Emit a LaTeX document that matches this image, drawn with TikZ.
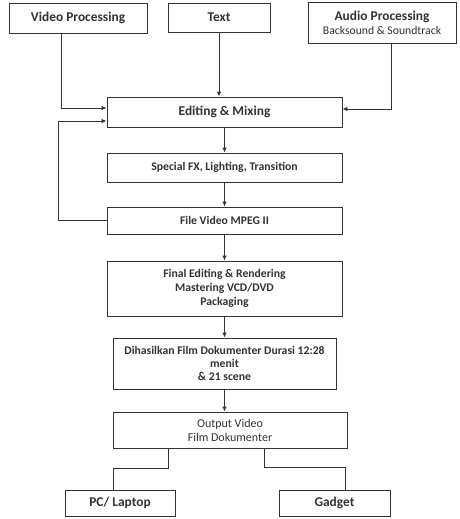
\documentclass[tikz,border=0pt]{standalone}
\usepackage{fontspec}
\setmainfont{Carlito}
\usetikzlibrary{arrows.meta}
\definecolor{ink}{HTML}{333333}
\tikzset{
  box/.style={draw=ink, line width=0.9pt, inner sep=0pt, align=center, text=ink, font=\bfseries},
  big/.style={font=\bfseries\fontsize{13.4}{15}\selectfont},
  small/.style={font=\bfseries\fontsize{11.7}{14}\selectfont},
  arr/.style={draw=ink, line width=0.9pt, -{Latex[length=5pt,width=4.5pt]}},
  ln/.style={draw=ink, line width=0.9pt}
}
\begin{document}
\begin{tikzpicture}[x=1pt,y=-1pt]
\useasboundingbox[fill=white] (0,0) rectangle (460,519);
\node[box, big, minimum width=138pt, minimum height=30pt] (vp) at (78,18) {Video Processing};
\node[box, big, minimum width=102pt, minimum height=29pt] (tx) at (219,17.5) {Text};
\node[box, minimum width=148pt, minimum height=41pt, font=\bfseries\fontsize{13.4}{14}\selectfont] (ap) at (382,22.5) {Audio Processing\\{\mdseries\fontsize{11.7}{12}\selectfont Backsound \& Soundtrack}};
\node[box, big, minimum width=235pt, minimum height=30pt] (em) at (224.5,112) {Editing \& Mixing};
\node[box, small, minimum width=235pt, minimum height=29pt] (sfx) at (224.5,167.5) {Special FX, Lighting, Transition};
\node[box, small, minimum width=235pt, minimum height=27pt] (mpeg) at (224.5,220.5) {File Video MPEG II};
\node[box, small, minimum width=235pt, minimum height=55pt] (fin) at (224.5,288.5) {Final Editing \& Rendering\\Mastering VCD/DVD\\Packaging};
\node[box, font=\bfseries\fontsize{11.7}{13}\selectfont, minimum width=223pt, minimum height=51pt] (dih) at (224.5,363.5) {Dihasilkan Film Dokumenter Durasi 12:28\\menit\\\& 21 scene};
\node[box, minimum width=234pt, minimum height=36pt, font=\fontsize{12}{14}\selectfont] (out) at (230,430) {Output Video\\Film Dokumenter};
\node[box, big, minimum width=110pt, minimum height=26pt] (pc) at (120,503) {PC/ Laptop};
\node[box, big, minimum width=111pt, minimum height=26pt] (gad) at (334.5,503) {Gadget};

\draw[arr] ([xshift=-17pt]vp.south) |- ([yshift=4pt]em.west);
\draw[arr] (tx.south) -- (tx.south |- em.north);
\draw[arr] ([xshift=9pt]ap.south) |- ([yshift=3pt]em.east);
\draw[arr] (mpeg.west) -- ++(-48,0) |- ([yshift=-9pt]em.west);
\draw[arr] (em.south) -- (sfx.north);
\draw[arr] (sfx.south) -- (mpeg.north);
\draw[arr] (mpeg.south) -- (fin.north);
\draw[arr] (fin.south) -- (dih.north);
\draw[arr] (dih.south) -- (dih.south |- out.north);
\draw[ln] ([xshift=-62pt]out.south) -- ++(0,20) -| ([xshift=-7pt]pc.north);
\draw[ln] ([xshift=34pt]out.south) -- ++(0,19) -| ([xshift=10.5pt]gad.north);
\end{tikzpicture}
\end{document}
